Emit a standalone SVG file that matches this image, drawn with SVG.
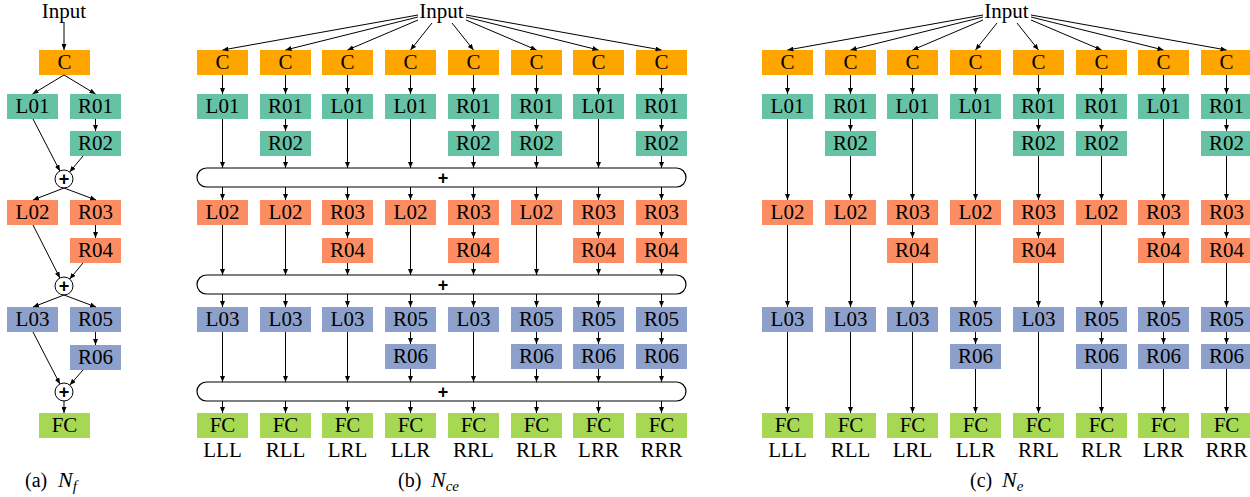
<svg xmlns="http://www.w3.org/2000/svg" width="1250" height="497" viewBox="0 0 1250 497">
<style>
text{font-family:"Liberation Serif","Times New Roman",serif;font-size:21px;fill:#000}
.t{text-anchor:middle}
.cc{fill:#FFA500}.g{fill:#66C2A5}.o{fill:#FC8D62}.b{fill:#8DA0CB}.f{fill:#A6D854}
.e line{stroke:#000;stroke-width:1;marker-end:url(#ah)}
.bar{fill:#fff;stroke:#000;stroke-width:1.2}
.pl{font-family:"Liberation Sans",Arial,sans-serif;font-weight:bold;font-size:18px;text-anchor:middle}
.cap{font-size:20px}
.it{font-style:italic;font-size:22px}
.sub{font-style:italic;font-size:15px}
</style>
<defs>
<marker id="ah" viewBox="0 0 6 5" refX="6" refY="2.5" markerWidth="6" markerHeight="5" markerUnits="userSpaceOnUse" orient="auto"><path d="M0,0L6,2.5L0,5z" fill="#000"/></marker>
</defs>

<!-- ===== Panel (a) ===== -->
<g id="a-input"><text class="t" x="64" y="18">Input</text></g>
<g id="a-C"><rect class="cc" x="39" y="50" width="51" height="25"/><text class="t" x="64.5" y="69">C</text></g>
<g id="a-L01"><rect class="g" x="7" y="94" width="51" height="25"/><text class="t" x="32.5" y="113">L01</text></g>
<g id="a-R01"><rect class="g" x="70" y="94" width="51" height="25"/><text class="t" x="95.5" y="113">R01</text></g>
<g id="a-R02"><rect class="g" x="70" y="131" width="51" height="25"/><text class="t" x="95.5" y="150">R02</text></g>
<g id="a-sum1"><circle cx="64" cy="179" r="9" fill="#fff" stroke="#000"/><text class="pl" x="64" y="185">+</text></g>
<g id="a-L02"><rect class="o" x="7" y="200" width="51" height="25"/><text class="t" x="32.5" y="219">L02</text></g>
<g id="a-R03"><rect class="o" x="70" y="200" width="51" height="25"/><text class="t" x="95.5" y="219">R03</text></g>
<g id="a-R04"><rect class="o" x="70" y="238" width="51" height="25"/><text class="t" x="95.5" y="257">R04</text></g>
<g id="a-sum2"><circle cx="64" cy="286" r="9" fill="#fff" stroke="#000"/><text class="pl" x="64" y="292">+</text></g>
<g id="a-L03"><rect class="b" x="7" y="307" width="51" height="25"/><text class="t" x="32.5" y="326">L03</text></g>
<g id="a-R05"><rect class="b" x="70" y="307" width="51" height="25"/><text class="t" x="95.5" y="326">R05</text></g>
<g id="a-R06"><rect class="b" x="70" y="345" width="51" height="25"/><text class="t" x="95.5" y="364">R06</text></g>
<g id="a-sum3"><circle cx="64" cy="392" r="9" fill="#fff" stroke="#000"/><text class="pl" x="64" y="398">+</text></g>
<g id="a-FC"><rect class="f" x="39" y="413" width="51" height="25"/><text class="t" x="64.5" y="432">FC</text></g>
<g id="a-caption"><text class="cap" x="25" y="487">(a)<tspan class="it" x="58">N</tspan><tspan class="sub" dy="4">f</tspan></text></g>

<g id="a-edges" class="e">
<line x1="64" y1="22" x2="64" y2="50"/>
<line x1="64" y1="75" x2="32.5" y2="94"/>
<line x1="64" y1="75" x2="95.5" y2="94"/>
<line x1="95.5" y1="119" x2="95.5" y2="131"/>
<line x1="33" y1="119" x2="59.9" y2="171"/>
<line x1="83" y1="156" x2="69.7" y2="172"/>
<line x1="64" y1="188" x2="33" y2="200"/>
<line x1="64" y1="188" x2="96" y2="200"/>
<line x1="95.5" y1="225" x2="95.5" y2="238"/>
<line x1="33" y1="225" x2="59.9" y2="278"/>
<line x1="83" y1="263" x2="69.7" y2="279"/>
<line x1="64" y1="295" x2="33" y2="307"/>
<line x1="64" y1="295" x2="96" y2="307"/>
<line x1="95.5" y1="332" x2="95.5" y2="345"/>
<line x1="33" y1="332" x2="59.9" y2="384"/>
<line x1="83" y1="370" x2="69.9" y2="385"/>
<line x1="64" y1="401" x2="64" y2="413"/>
</g>

<!-- ===== Panel (b) ===== -->
<g id="b-input"><text class="t" x="441.5" y="18">Input</text></g>
<g id="b-sum1"><rect class="bar" x="197" y="168" width="489" height="19" rx="9.5"/><text class="pl" x="443" y="184">+</text></g>
<g id="b-sum2"><rect class="bar" x="197" y="275" width="489" height="19" rx="9.5"/><text class="pl" x="443" y="291">+</text></g>
<g id="b-sum3"><rect class="bar" x="197" y="382" width="489" height="19" rx="9.5"/><text class="pl" x="443" y="398">+</text></g>

<g id="b1-C"><rect class="cc" x="197" y="50" width="51" height="25"/><text class="t" x="222.5" y="69">C</text></g>
<g id="b1-L01"><rect class="g" x="197" y="94" width="51" height="25"/><text class="t" x="222.5" y="113">L01</text></g>
<g id="b1-L02"><rect class="o" x="197" y="200" width="51" height="25"/><text class="t" x="222.5" y="219">L02</text></g>
<g id="b1-L03"><rect class="b" x="197" y="307" width="51" height="25"/><text class="t" x="222.5" y="326">L03</text></g>
<g id="b1-FC"><rect class="f" x="197" y="413" width="51" height="25"/><text class="t" x="222.5" y="432">FC</text><text class="t" x="222.5" y="457">LLL</text></g>
<g id="b2-C"><rect class="cc" x="260" y="50" width="51" height="25"/><text class="t" x="285.5" y="69">C</text></g>
<g id="b2-R01"><rect class="g" x="260" y="94" width="51" height="25"/><text class="t" x="285.5" y="113">R01</text></g>
<g id="b2-R02"><rect class="g" x="260" y="131" width="51" height="25"/><text class="t" x="285.5" y="150">R02</text></g>
<g id="b2-L02"><rect class="o" x="260" y="200" width="51" height="25"/><text class="t" x="285.5" y="219">L02</text></g>
<g id="b2-L03"><rect class="b" x="260" y="307" width="51" height="25"/><text class="t" x="285.5" y="326">L03</text></g>
<g id="b2-FC"><rect class="f" x="260" y="413" width="51" height="25"/><text class="t" x="285.5" y="432">FC</text><text class="t" x="285.5" y="457">RLL</text></g>
<g id="b3-C"><rect class="cc" x="322" y="50" width="51" height="25"/><text class="t" x="347.5" y="69">C</text></g>
<g id="b3-L01"><rect class="g" x="322" y="94" width="51" height="25"/><text class="t" x="347.5" y="113">L01</text></g>
<g id="b3-R03"><rect class="o" x="322" y="200" width="51" height="25"/><text class="t" x="347.5" y="219">R03</text></g>
<g id="b3-R04"><rect class="o" x="322" y="238" width="51" height="25"/><text class="t" x="347.5" y="257">R04</text></g>
<g id="b3-L03"><rect class="b" x="322" y="307" width="51" height="25"/><text class="t" x="347.5" y="326">L03</text></g>
<g id="b3-FC"><rect class="f" x="322" y="413" width="51" height="25"/><text class="t" x="347.5" y="432">FC</text><text class="t" x="347.5" y="457">LRL</text></g>
<g id="b4-C"><rect class="cc" x="385" y="50" width="51" height="25"/><text class="t" x="410.5" y="69">C</text></g>
<g id="b4-L01"><rect class="g" x="385" y="94" width="51" height="25"/><text class="t" x="410.5" y="113">L01</text></g>
<g id="b4-L02"><rect class="o" x="385" y="200" width="51" height="25"/><text class="t" x="410.5" y="219">L02</text></g>
<g id="b4-R05"><rect class="b" x="385" y="307" width="51" height="25"/><text class="t" x="410.5" y="326">R05</text></g>
<g id="b4-R06"><rect class="b" x="385" y="344" width="51" height="25"/><text class="t" x="410.5" y="363">R06</text></g>
<g id="b4-FC"><rect class="f" x="385" y="413" width="51" height="25"/><text class="t" x="410.5" y="432">FC</text><text class="t" x="410.5" y="457">LLR</text></g>
<g id="b5-C"><rect class="cc" x="448" y="50" width="51" height="25"/><text class="t" x="473.5" y="69">C</text></g>
<g id="b5-R01"><rect class="g" x="448" y="94" width="51" height="25"/><text class="t" x="473.5" y="113">R01</text></g>
<g id="b5-R02"><rect class="g" x="448" y="131" width="51" height="25"/><text class="t" x="473.5" y="150">R02</text></g>
<g id="b5-R03"><rect class="o" x="448" y="200" width="51" height="25"/><text class="t" x="473.5" y="219">R03</text></g>
<g id="b5-R04"><rect class="o" x="448" y="238" width="51" height="25"/><text class="t" x="473.5" y="257">R04</text></g>
<g id="b5-L03"><rect class="b" x="448" y="307" width="51" height="25"/><text class="t" x="473.5" y="326">L03</text></g>
<g id="b5-FC"><rect class="f" x="448" y="413" width="51" height="25"/><text class="t" x="473.5" y="432">FC</text><text class="t" x="473.5" y="457">RRL</text></g>
<g id="b6-C"><rect class="cc" x="511" y="50" width="51" height="25"/><text class="t" x="536.5" y="69">C</text></g>
<g id="b6-R01"><rect class="g" x="511" y="94" width="51" height="25"/><text class="t" x="536.5" y="113">R01</text></g>
<g id="b6-R02"><rect class="g" x="511" y="131" width="51" height="25"/><text class="t" x="536.5" y="150">R02</text></g>
<g id="b6-L02"><rect class="o" x="511" y="200" width="51" height="25"/><text class="t" x="536.5" y="219">L02</text></g>
<g id="b6-R05"><rect class="b" x="511" y="307" width="51" height="25"/><text class="t" x="536.5" y="326">R05</text></g>
<g id="b6-R06"><rect class="b" x="511" y="344" width="51" height="25"/><text class="t" x="536.5" y="363">R06</text></g>
<g id="b6-FC"><rect class="f" x="511" y="413" width="51" height="25"/><text class="t" x="536.5" y="432">FC</text><text class="t" x="536.5" y="457">RLR</text></g>
<g id="b7-C"><rect class="cc" x="573" y="50" width="51" height="25"/><text class="t" x="598.5" y="69">C</text></g>
<g id="b7-L01"><rect class="g" x="573" y="94" width="51" height="25"/><text class="t" x="598.5" y="113">L01</text></g>
<g id="b7-R03"><rect class="o" x="573" y="200" width="51" height="25"/><text class="t" x="598.5" y="219">R03</text></g>
<g id="b7-R04"><rect class="o" x="573" y="238" width="51" height="25"/><text class="t" x="598.5" y="257">R04</text></g>
<g id="b7-R05"><rect class="b" x="573" y="307" width="51" height="25"/><text class="t" x="598.5" y="326">R05</text></g>
<g id="b7-R06"><rect class="b" x="573" y="344" width="51" height="25"/><text class="t" x="598.5" y="363">R06</text></g>
<g id="b7-FC"><rect class="f" x="573" y="413" width="51" height="25"/><text class="t" x="598.5" y="432">FC</text><text class="t" x="598.5" y="457">LRR</text></g>
<g id="b8-C"><rect class="cc" x="636" y="50" width="51" height="25"/><text class="t" x="661.5" y="69">C</text></g>
<g id="b8-R01"><rect class="g" x="636" y="94" width="51" height="25"/><text class="t" x="661.5" y="113">R01</text></g>
<g id="b8-R02"><rect class="g" x="636" y="131" width="51" height="25"/><text class="t" x="661.5" y="150">R02</text></g>
<g id="b8-R03"><rect class="o" x="636" y="200" width="51" height="25"/><text class="t" x="661.5" y="219">R03</text></g>
<g id="b8-R04"><rect class="o" x="636" y="238" width="51" height="25"/><text class="t" x="661.5" y="257">R04</text></g>
<g id="b8-R05"><rect class="b" x="636" y="307" width="51" height="25"/><text class="t" x="661.5" y="326">R05</text></g>
<g id="b8-R06"><rect class="b" x="636" y="344" width="51" height="25"/><text class="t" x="661.5" y="363">R06</text></g>
<g id="b8-FC"><rect class="f" x="636" y="413" width="51" height="25"/><text class="t" x="661.5" y="432">FC</text><text class="t" x="661.5" y="457">RRR</text></g>
<g id="b-caption"><text class="cap" x="398" y="487">(b)<tspan class="it" x="431">N</tspan><tspan class="sub" dy="4">ce</tspan></text></g>

<g id="b-edges" class="e">
<line x1="418" y1="15" x2="222.5" y2="50"/>
<line x1="418" y1="17" x2="285.5" y2="50"/>
<line x1="418" y1="20" x2="347.5" y2="50"/>
<line x1="432" y1="23" x2="410.5" y2="50"/>
<line x1="452" y1="23" x2="473.5" y2="50"/>
<line x1="466" y1="20" x2="536.5" y2="50"/>
<line x1="466" y1="17" x2="598.5" y2="50"/>
<line x1="466" y1="15" x2="661.5" y2="50"/>
<line x1="222.5" y1="75" x2="222.5" y2="94"/><line x1="285.5" y1="75" x2="285.5" y2="94"/><line x1="347.5" y1="75" x2="347.5" y2="94"/><line x1="410.5" y1="75" x2="410.5" y2="94"/><line x1="473.5" y1="75" x2="473.5" y2="94"/><line x1="536.5" y1="75" x2="536.5" y2="94"/><line x1="598.5" y1="75" x2="598.5" y2="94"/><line x1="661.5" y1="75" x2="661.5" y2="94"/>
<line x1="285.5" y1="119" x2="285.5" y2="131"/><line x1="473.5" y1="119" x2="473.5" y2="131"/><line x1="536.5" y1="119" x2="536.5" y2="131"/><line x1="661.5" y1="119" x2="661.5" y2="131"/>
<line x1="222.5" y1="119" x2="222.5" y2="168"/><line x1="285.5" y1="156" x2="285.5" y2="168"/><line x1="347.5" y1="119" x2="347.5" y2="168"/><line x1="410.5" y1="119" x2="410.5" y2="168"/><line x1="473.5" y1="156" x2="473.5" y2="168"/><line x1="536.5" y1="156" x2="536.5" y2="168"/><line x1="598.5" y1="119" x2="598.5" y2="168"/><line x1="661.5" y1="156" x2="661.5" y2="168"/>
<line x1="222.5" y1="187" x2="222.5" y2="200"/><line x1="285.5" y1="187" x2="285.5" y2="200"/><line x1="347.5" y1="187" x2="347.5" y2="200"/><line x1="410.5" y1="187" x2="410.5" y2="200"/><line x1="473.5" y1="187" x2="473.5" y2="200"/><line x1="536.5" y1="187" x2="536.5" y2="200"/><line x1="598.5" y1="187" x2="598.5" y2="200"/><line x1="661.5" y1="187" x2="661.5" y2="200"/>
<line x1="347.5" y1="225" x2="347.5" y2="238"/><line x1="473.5" y1="225" x2="473.5" y2="238"/><line x1="598.5" y1="225" x2="598.5" y2="238"/><line x1="661.5" y1="225" x2="661.5" y2="238"/>
<line x1="222.5" y1="225" x2="222.5" y2="275"/><line x1="285.5" y1="225" x2="285.5" y2="275"/><line x1="347.5" y1="263" x2="347.5" y2="275"/><line x1="410.5" y1="225" x2="410.5" y2="275"/><line x1="473.5" y1="263" x2="473.5" y2="275"/><line x1="536.5" y1="225" x2="536.5" y2="275"/><line x1="598.5" y1="263" x2="598.5" y2="275"/><line x1="661.5" y1="263" x2="661.5" y2="275"/>
<line x1="222.5" y1="294" x2="222.5" y2="307"/><line x1="285.5" y1="294" x2="285.5" y2="307"/><line x1="347.5" y1="294" x2="347.5" y2="307"/><line x1="410.5" y1="294" x2="410.5" y2="307"/><line x1="473.5" y1="294" x2="473.5" y2="307"/><line x1="536.5" y1="294" x2="536.5" y2="307"/><line x1="598.5" y1="294" x2="598.5" y2="307"/><line x1="661.5" y1="294" x2="661.5" y2="307"/>
<line x1="410.5" y1="332" x2="410.5" y2="344"/><line x1="536.5" y1="332" x2="536.5" y2="344"/><line x1="598.5" y1="332" x2="598.5" y2="344"/><line x1="661.5" y1="332" x2="661.5" y2="344"/>
<line x1="222.5" y1="332" x2="222.5" y2="382"/><line x1="285.5" y1="332" x2="285.5" y2="382"/><line x1="347.5" y1="332" x2="347.5" y2="382"/><line x1="410.5" y1="369" x2="410.5" y2="382"/><line x1="473.5" y1="332" x2="473.5" y2="382"/><line x1="536.5" y1="369" x2="536.5" y2="382"/><line x1="598.5" y1="369" x2="598.5" y2="382"/><line x1="661.5" y1="369" x2="661.5" y2="382"/>
<line x1="222.5" y1="401" x2="222.5" y2="413"/><line x1="285.5" y1="401" x2="285.5" y2="413"/><line x1="347.5" y1="401" x2="347.5" y2="413"/><line x1="410.5" y1="401" x2="410.5" y2="413"/><line x1="473.5" y1="401" x2="473.5" y2="413"/><line x1="536.5" y1="401" x2="536.5" y2="413"/><line x1="598.5" y1="401" x2="598.5" y2="413"/><line x1="661.5" y1="401" x2="661.5" y2="413"/>
</g>

<!-- ===== Panel (c) ===== -->
<g id="c-input"><text class="t" x="1006.5" y="18">Input</text></g>
<g id="c1-C"><rect class="cc" x="762" y="50" width="51" height="25"/><text class="t" x="787.5" y="69">C</text></g>
<g id="c1-L01"><rect class="g" x="762" y="94" width="51" height="25"/><text class="t" x="787.5" y="113">L01</text></g>
<g id="c1-L02"><rect class="o" x="762" y="200" width="51" height="25"/><text class="t" x="787.5" y="219">L02</text></g>
<g id="c1-L03"><rect class="b" x="762" y="307" width="51" height="25"/><text class="t" x="787.5" y="326">L03</text></g>
<g id="c1-FC"><rect class="f" x="762" y="413" width="51" height="25"/><text class="t" x="787.5" y="432">FC</text><text class="t" x="787.5" y="457">LLL</text></g>
<g id="c2-C"><rect class="cc" x="825" y="50" width="51" height="25"/><text class="t" x="850.5" y="69">C</text></g>
<g id="c2-R01"><rect class="g" x="825" y="94" width="51" height="25"/><text class="t" x="850.5" y="113">R01</text></g>
<g id="c2-R02"><rect class="g" x="825" y="131" width="51" height="25"/><text class="t" x="850.5" y="150">R02</text></g>
<g id="c2-L02"><rect class="o" x="825" y="200" width="51" height="25"/><text class="t" x="850.5" y="219">L02</text></g>
<g id="c2-L03"><rect class="b" x="825" y="307" width="51" height="25"/><text class="t" x="850.5" y="326">L03</text></g>
<g id="c2-FC"><rect class="f" x="825" y="413" width="51" height="25"/><text class="t" x="850.5" y="432">FC</text><text class="t" x="850.5" y="457">RLL</text></g>
<g id="c3-C"><rect class="cc" x="887" y="50" width="51" height="25"/><text class="t" x="912.5" y="69">C</text></g>
<g id="c3-L01"><rect class="g" x="887" y="94" width="51" height="25"/><text class="t" x="912.5" y="113">L01</text></g>
<g id="c3-R03"><rect class="o" x="887" y="200" width="51" height="25"/><text class="t" x="912.5" y="219">R03</text></g>
<g id="c3-R04"><rect class="o" x="887" y="238" width="51" height="25"/><text class="t" x="912.5" y="257">R04</text></g>
<g id="c3-L03"><rect class="b" x="887" y="307" width="51" height="25"/><text class="t" x="912.5" y="326">L03</text></g>
<g id="c3-FC"><rect class="f" x="887" y="413" width="51" height="25"/><text class="t" x="912.5" y="432">FC</text><text class="t" x="912.5" y="457">LRL</text></g>
<g id="c4-C"><rect class="cc" x="950" y="50" width="51" height="25"/><text class="t" x="975.5" y="69">C</text></g>
<g id="c4-L01"><rect class="g" x="950" y="94" width="51" height="25"/><text class="t" x="975.5" y="113">L01</text></g>
<g id="c4-L02"><rect class="o" x="950" y="200" width="51" height="25"/><text class="t" x="975.5" y="219">L02</text></g>
<g id="c4-R05"><rect class="b" x="950" y="307" width="51" height="25"/><text class="t" x="975.5" y="326">R05</text></g>
<g id="c4-R06"><rect class="b" x="950" y="344" width="51" height="25"/><text class="t" x="975.5" y="363">R06</text></g>
<g id="c4-FC"><rect class="f" x="950" y="413" width="51" height="25"/><text class="t" x="975.5" y="432">FC</text><text class="t" x="975.5" y="457">LLR</text></g>
<g id="c5-C"><rect class="cc" x="1013" y="50" width="51" height="25"/><text class="t" x="1038.5" y="69">C</text></g>
<g id="c5-R01"><rect class="g" x="1013" y="94" width="51" height="25"/><text class="t" x="1038.5" y="113">R01</text></g>
<g id="c5-R02"><rect class="g" x="1013" y="131" width="51" height="25"/><text class="t" x="1038.5" y="150">R02</text></g>
<g id="c5-R03"><rect class="o" x="1013" y="200" width="51" height="25"/><text class="t" x="1038.5" y="219">R03</text></g>
<g id="c5-R04"><rect class="o" x="1013" y="238" width="51" height="25"/><text class="t" x="1038.5" y="257">R04</text></g>
<g id="c5-L03"><rect class="b" x="1013" y="307" width="51" height="25"/><text class="t" x="1038.5" y="326">L03</text></g>
<g id="c5-FC"><rect class="f" x="1013" y="413" width="51" height="25"/><text class="t" x="1038.5" y="432">FC</text><text class="t" x="1038.5" y="457">RRL</text></g>
<g id="c6-C"><rect class="cc" x="1076" y="50" width="51" height="25"/><text class="t" x="1101.5" y="69">C</text></g>
<g id="c6-R01"><rect class="g" x="1076" y="94" width="51" height="25"/><text class="t" x="1101.5" y="113">R01</text></g>
<g id="c6-R02"><rect class="g" x="1076" y="131" width="51" height="25"/><text class="t" x="1101.5" y="150">R02</text></g>
<g id="c6-L02"><rect class="o" x="1076" y="200" width="51" height="25"/><text class="t" x="1101.5" y="219">L02</text></g>
<g id="c6-R05"><rect class="b" x="1076" y="307" width="51" height="25"/><text class="t" x="1101.5" y="326">R05</text></g>
<g id="c6-R06"><rect class="b" x="1076" y="344" width="51" height="25"/><text class="t" x="1101.5" y="363">R06</text></g>
<g id="c6-FC"><rect class="f" x="1076" y="413" width="51" height="25"/><text class="t" x="1101.5" y="432">FC</text><text class="t" x="1101.5" y="457">RLR</text></g>
<g id="c7-C"><rect class="cc" x="1138" y="50" width="51" height="25"/><text class="t" x="1163.5" y="69">C</text></g>
<g id="c7-L01"><rect class="g" x="1138" y="94" width="51" height="25"/><text class="t" x="1163.5" y="113">L01</text></g>
<g id="c7-R03"><rect class="o" x="1138" y="200" width="51" height="25"/><text class="t" x="1163.5" y="219">R03</text></g>
<g id="c7-R04"><rect class="o" x="1138" y="238" width="51" height="25"/><text class="t" x="1163.5" y="257">R04</text></g>
<g id="c7-R05"><rect class="b" x="1138" y="307" width="51" height="25"/><text class="t" x="1163.5" y="326">R05</text></g>
<g id="c7-R06"><rect class="b" x="1138" y="344" width="51" height="25"/><text class="t" x="1163.5" y="363">R06</text></g>
<g id="c7-FC"><rect class="f" x="1138" y="413" width="51" height="25"/><text class="t" x="1163.5" y="432">FC</text><text class="t" x="1163.5" y="457">LRR</text></g>
<g id="c8-C"><rect class="cc" x="1201" y="50" width="50" height="25"/><text class="t" x="1226.5" y="69">C</text></g>
<g id="c8-R01"><rect class="g" x="1201" y="94" width="50" height="25"/><text class="t" x="1226.5" y="113">R01</text></g>
<g id="c8-R02"><rect class="g" x="1201" y="131" width="50" height="25"/><text class="t" x="1226.5" y="150">R02</text></g>
<g id="c8-R03"><rect class="o" x="1201" y="200" width="50" height="25"/><text class="t" x="1226.5" y="219">R03</text></g>
<g id="c8-R04"><rect class="o" x="1201" y="238" width="50" height="25"/><text class="t" x="1226.5" y="257">R04</text></g>
<g id="c8-R05"><rect class="b" x="1201" y="307" width="50" height="25"/><text class="t" x="1226.5" y="326">R05</text></g>
<g id="c8-R06"><rect class="b" x="1201" y="344" width="50" height="25"/><text class="t" x="1226.5" y="363">R06</text></g>
<g id="c8-FC"><rect class="f" x="1201" y="413" width="50" height="25"/><text class="t" x="1226.5" y="432">FC</text><text class="t" x="1226.5" y="457">RRR</text></g>
<g id="c-caption"><text class="cap" x="970" y="487">(c)<tspan class="it" x="1002">N</tspan><tspan class="sub" dy="4">e</tspan></text></g>

<g id="c-edges" class="e">
<line x1="983" y1="15" x2="787.5" y2="50"/>
<line x1="983" y1="17" x2="850.5" y2="50"/>
<line x1="983" y1="20" x2="912.5" y2="50"/>
<line x1="997" y1="23" x2="975.5" y2="50"/>
<line x1="1017" y1="23" x2="1038.5" y2="50"/>
<line x1="1031" y1="20" x2="1101.5" y2="50"/>
<line x1="1031" y1="17" x2="1163.5" y2="50"/>
<line x1="1031" y1="15" x2="1226.5" y2="50"/>
<line x1="787.5" y1="75" x2="787.5" y2="94"/><line x1="850.5" y1="75" x2="850.5" y2="94"/><line x1="912.5" y1="75" x2="912.5" y2="94"/><line x1="975.5" y1="75" x2="975.5" y2="94"/><line x1="1038.5" y1="75" x2="1038.5" y2="94"/><line x1="1101.5" y1="75" x2="1101.5" y2="94"/><line x1="1163.5" y1="75" x2="1163.5" y2="94"/><line x1="1226.5" y1="75" x2="1226.5" y2="94"/>
<line x1="850.5" y1="119" x2="850.5" y2="131"/><line x1="1038.5" y1="119" x2="1038.5" y2="131"/><line x1="1101.5" y1="119" x2="1101.5" y2="131"/><line x1="1226.5" y1="119" x2="1226.5" y2="131"/>
<line x1="787.5" y1="119" x2="787.5" y2="200"/><line x1="850.5" y1="156" x2="850.5" y2="200"/><line x1="912.5" y1="119" x2="912.5" y2="200"/><line x1="975.5" y1="119" x2="975.5" y2="200"/><line x1="1038.5" y1="156" x2="1038.5" y2="200"/><line x1="1101.5" y1="156" x2="1101.5" y2="200"/><line x1="1163.5" y1="119" x2="1163.5" y2="200"/><line x1="1226.5" y1="156" x2="1226.5" y2="200"/>
<line x1="912.5" y1="225" x2="912.5" y2="238"/><line x1="1038.5" y1="225" x2="1038.5" y2="238"/><line x1="1163.5" y1="225" x2="1163.5" y2="238"/><line x1="1226.5" y1="225" x2="1226.5" y2="238"/>
<line x1="787.5" y1="225" x2="787.5" y2="307"/><line x1="850.5" y1="225" x2="850.5" y2="307"/><line x1="912.5" y1="263" x2="912.5" y2="307"/><line x1="975.5" y1="225" x2="975.5" y2="307"/><line x1="1038.5" y1="263" x2="1038.5" y2="307"/><line x1="1101.5" y1="225" x2="1101.5" y2="307"/><line x1="1163.5" y1="263" x2="1163.5" y2="307"/><line x1="1226.5" y1="263" x2="1226.5" y2="307"/>
<line x1="975.5" y1="332" x2="975.5" y2="344"/><line x1="1101.5" y1="332" x2="1101.5" y2="344"/><line x1="1163.5" y1="332" x2="1163.5" y2="344"/><line x1="1226.5" y1="332" x2="1226.5" y2="344"/>
<line x1="787.5" y1="332" x2="787.5" y2="413"/><line x1="850.5" y1="332" x2="850.5" y2="413"/><line x1="912.5" y1="332" x2="912.5" y2="413"/><line x1="975.5" y1="369" x2="975.5" y2="413"/><line x1="1038.5" y1="332" x2="1038.5" y2="413"/><line x1="1101.5" y1="369" x2="1101.5" y2="413"/><line x1="1163.5" y1="369" x2="1163.5" y2="413"/><line x1="1226.5" y1="369" x2="1226.5" y2="413"/>
</g>
</svg>
